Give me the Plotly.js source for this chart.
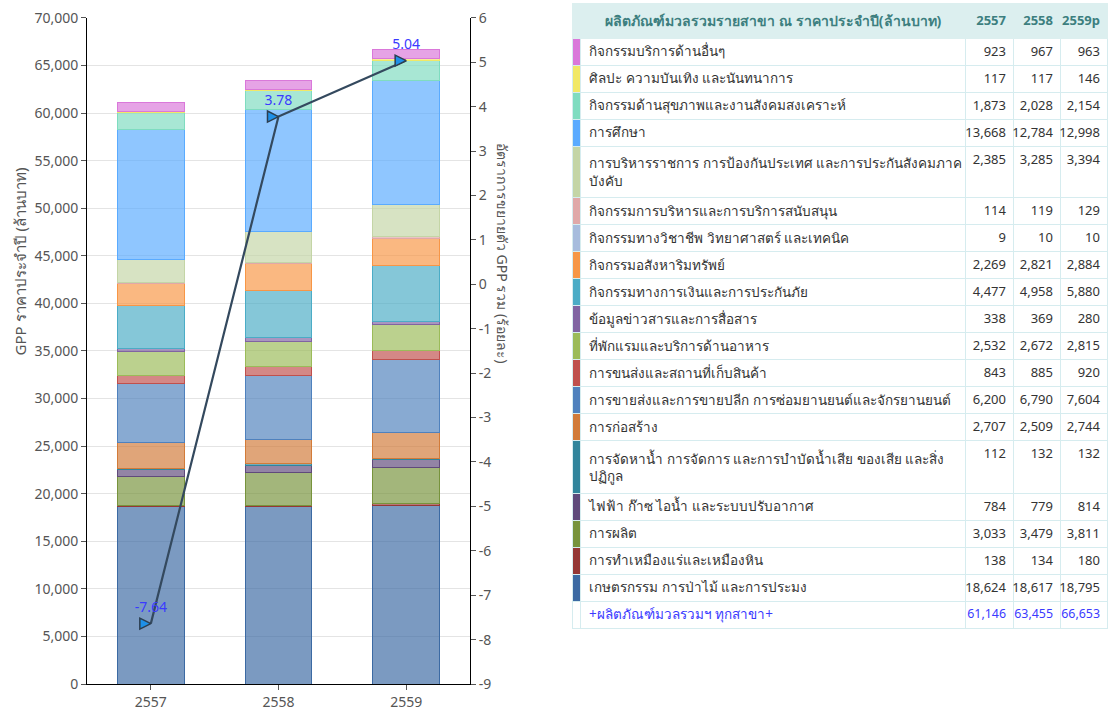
<!DOCTYPE html>
<html>
<head>
<meta charset="utf-8">
<script src="https://cdn.plot.ly/plotly-3.0.1.min.js"></script>
<style>html,body{margin:0;padding:0;background:#fff;}#chart{width:1116px;height:717px;}</style>
</head>
<body>
<div id="chart"></div>
<script>
// ---- data ----
const years = ["2557", "2558", "2559"];
const yearHeaders = ["2557", "2558", "2559p"];
// sectors listed bottom of stack -> top of stack
const sectors = [
  "เกษตรกรรม การป่าไม้ และการประมง",
  "การทำเหมืองแร่และเหมืองหิน",
  "การผลิต",
  "ไฟฟ้า ก๊าซ ไอน้ำ และระบบปรับอากาศ",
  "การจัดหาน้ำ การจัดการ และการบำบัดน้ำเสีย ของเสีย และสิ่ง<br>ปฏิกูล",
  "การก่อสร้าง",
  "การขายส่งและการขายปลีก การซ่อมยานยนต์และจักรยานยนต์",
  "การขนส่งและสถานที่เก็บสินค้า",
  "ที่พักแรมและบริการด้านอาหาร",
  "ข้อมูลข่าวสารและการสื่อสาร",
  "กิจกรรมทางการเงินและการประกันภัย",
  "กิจกรรมอสังหาริมทรัพย์",
  "กิจกรรมทางวิชาชีพ วิทยาศาสตร์ และเทคนิค",
  "กิจกรรมการบริหารและการบริการสนับสนุน",
  "การบริหารราชการ การป้องกันประเทศ และการประกันสังคมภาค<br>บังคับ",
  "การศึกษา",
  "กิจกรรมด้านสุขภาพและงานสังคมสงเคราะห์",
  "ศิลปะ ความบันเทิง และนันทนาการ",
  "กิจกรรมบริการด้านอื่นๆ"
];
const v2557 = [18624, 138, 3033, 784, 112, 2707, 6200, 843, 2532, 338, 4477, 2269, 9, 114, 2385, 13668, 1873, 117, 923];
const v2558 = [18617, 134, 3479, 779, 132, 2509, 6790, 885, 2672, 369, 4958, 2821, 10, 119, 3285, 12784, 2028, 117, 967];
const v2559 = [18795, 180, 3811, 814, 132, 2744, 7604, 920, 2815, 280, 5880, 2884, 10, 129, 3394, 12998, 2154, 146, 963];
const totals = [61146, 63455, 66653];
const totalLabel = "+ผลิตภัณฑ์มวลรวมฯ ทุกสาขา+";
const growth = [-7.64, 3.78, 5.04];
const growthLabels = ["-7.64", "3.78", "5.04"];
const colors = ["#3c6aa3", "#953735", "#77933c", "#604a7b", "#31859c", "#d27b39", "#4f81bd", "#c0504d",
  "#9bbb59", "#8064a2", "#4bacc6", "#f79646", "#a7bcdd", "#e0a8a8", "#c4d5a6", "#5aabff", "#7fdcc0", "#f1e866", "#da78da"];

// ---- helpers ----
function hexToRgba(h, a) {
  const n = parseInt(h.slice(1), 16);
  return "rgba(" + ((n >> 16) & 255) + "," + ((n >> 8) & 255) + "," + (n & 255) + "," + a + ")";
}
const fmt = v => v.toLocaleString("en-US");
const FONT = "Noto Sans, 'Open Sans', sans-serif";

const traces = [];
sectors.forEach((s, i) => {
  traces.push({
    type: "bar", name: s, x: years, y: [v2557[i], v2558[i], v2559[i]],
    marker: { color: hexToRgba(colors[i], 0.68), line: { color: colors[i], width: 1 } },
    hoverinfo: "y+name", showlegend: false
  });
});
traces.push({
  type: "scatter", mode: "lines+markers+text", x: years, y: growth, yaxis: "y2",
  text: growthLabels, textposition: "top center",
  textfont: { color: "#3a3aff", size: 14, family: FONT },
  line: { color: "#34495e", width: 2.2 },
  marker: { symbol: "arrow-right", size: 11, color: "#1e90e8", line: { color: "#2c3e50", width: 1.5 } },
  showlegend: false, cliponaxis: false
});

// table (top -> bottom = reverse of stack order)
const rev = a => a.slice().reverse();
const nRows = sectors.length + 1;
const swatch = rev(colors).concat(["#ffffff"]);
const labelCol = rev(sectors).concat([totalLabel]);
const c57 = rev(v2557).map(fmt).concat([fmt(totals[0])]);
const c58 = rev(v2558).map(fmt).concat([fmt(totals[1])]);
const c59 = rev(v2559).map(fmt).concat([fmt(totals[2])]);
const txtColors = Array(nRows - 1).fill("#333333").concat(["#3a3aff"]);
const numSizes = Array(nRows - 1).fill(13).concat([12.4]);
traces.push({
  type: "table",
  domain: { x: [0.476, 1.0], y: [0, 1] },
  columnwidth: [8, 385, 48, 47, 47],
  header: {
    values: ["", "<b>ผลิตภัณฑ์มวลรวมรายสาขา ณ ราคาประจำปี(ล้านบาท)</b>"].concat(yearHeaders.map(y => "<b>" + y + "</b>")),
    align: ["left", "center", "right", "right", "right"],
    fill: { color: "#dcefef" },
    line: { color: "#dcefef", width: 1 },
    font: { family: FONT, size: [13, 14, 13, 13, 13], color: "#3d7f7f" },
    height: 32
  },
  cells: {
    values: [Array(nRows).fill(""), labelCol, c57, c58, c59],
    align: ["left", "left", "right", "right", "right"],
    fill: { color: [swatch, "#ffffff", "#ffffff", "#ffffff", "#ffffff"] },
    line: { color: "#d6ecef", width: 1 },
    font: { family: FONT, size: [13, 13.5, numSizes, numSizes, numSizes], color: [txtColors, txtColors, txtColors, txtColors, txtColors] },
    height: 27
  }
});

const y2Ticks = [];
for (let v = -9; v <= 6; v++) y2Ticks.push(v);

const layout = {
  width: 1116, height: 717,
  margin: { l: 87, r: 8, t: 3, b: 33 },
  paper_bgcolor: "#ffffff", plot_bgcolor: "#ffffff",
  font: { family: FONT, color: "#555555" },
  barmode: "stack", bargap: 0.48,
  xaxis: {
    domain: [0, 0.3751], type: "category",
    showline: true, linecolor: "#000000", linewidth: 1,
    ticks: "outside", ticklen: 5, tickcolor: "#555",
    tickfont: { size: 14, color: "#555555" }
  },
  yaxis: {
    domain: [0, 0.978], range: [0, 70000], dtick: 5000, tickformat: ",d",
    showline: true, linecolor: "#000000", linewidth: 1,
    ticks: "outside", ticklen: 5, tickcolor: "#555",
    gridcolor: "#e4e4e4", zeroline: false,
    tickfont: { size: 14, color: "#555555" }
  },
  yaxis2: {
    overlaying: "y", side: "right", anchor: "x",
    range: [-9, 6], tickvals: y2Ticks, ticktext: y2Ticks.map(String),
    showline: true, linecolor: "#000000", linewidth: 1,
    ticks: "outside", ticklen: 5, tickcolor: "#555",
    showgrid: false, zeroline: false,
    tickfont: { size: 14, color: "#555555" }
  },
  annotations: [{
    text: "GPP ราคาประจำปี (ล้านบาท)", textangle: -90,
    xref: "paper", yref: "paper", x: -0.066, y: 0.62, xanchor: "center", yanchor: "middle",
    showarrow: false, font: { size: 15, color: "#555555" }
  }, {
    text: "อัตราการขยายตัว GPP รวม (ร้อยละ)", textangle: 90,
    xref: "paper", yref: "paper", x: 0.4065, y: 0.633, xanchor: "center", yanchor: "middle",
    showarrow: false, font: { size: 14, color: "#555555" }
  }]
};

Plotly.newPlot("chart", traces, layout, { displayModeBar: false, staticPlot: true });
</script>
</body>
</html>
